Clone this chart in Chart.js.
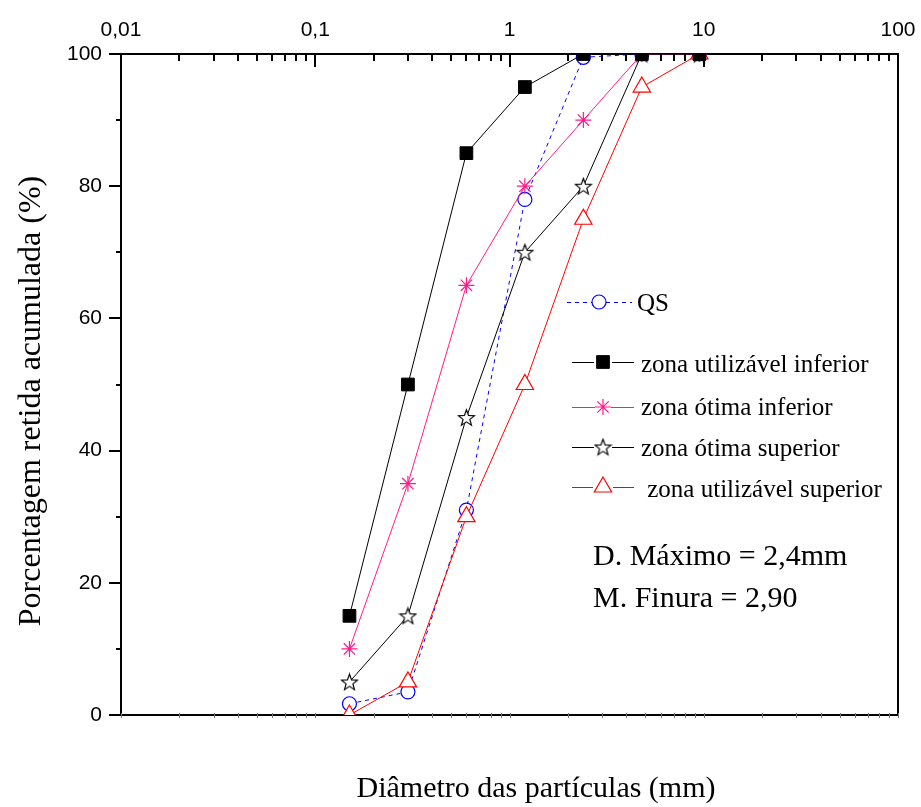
<!DOCTYPE html>
<html>
<head>
<meta charset="utf-8">
<title>Curva granulométrica</title>
<script src="https://cdn.jsdelivr.net/npm/chart.js@4.4.1/dist/chart.umd.min.js"></script>
<style>
  body { margin: 0; background: #fff; }
  canvas { display: block; }
</style>
</head>
<body>
<canvas id="gradChart" width="921" height="807"></canvas>
<script>
// sieve openings (mm) and cumulative retained (%)
const sieves = [0.15, 0.3, 0.6, 1.2, 2.4, 4.8, 9.5];
const qs = [1.7, 3.5, 31, 78, 99.5, 100, 100];
const utilInferior = [15, 50, 85, 95, 100, 100, 100];
const otimaInferior = [10, 35, 65, 80, 90, 100, 100];
const otimaSuperior = [5, 15, 45, 70, 80, 100, 100];
const utilSuperior = [0, 5, 30, 50, 75, 95, 100];

const seriesNames = ['QS', 'zona utilizável inferior', 'zona ótima inferior', 'zona ótima superior', ' zona utilizável superior'];
const xDecades = [0.01, 0.1, 1, 10, 100];
const xTickLabels = ['0,01', '0,1', '1', '10', '100'];
const yTickLabels = [0, 20, 40, 60, 80, 100];
const notes = ['D. Máximo = 2,4mm', 'M. Finura = 2,90'];
const xTitle = 'Diâmetro das partículas (mm)';
const yTitle = 'Porcentagem retida acumulada (%)';

const SERIF = "'Liberation Serif', 'Times New Roman', serif";
const PINK = '#ff1a8c';

const pts = ys => sieves.map((x, i) => ({ x: x, y: ys[i] }));

// all log ticks 1..9 x 10^n, labels only on decades
const logTicks = [];
for (let d = 0; d < xDecades.length - 1; d++) {
  for (let m = 1; m <= 9; m++) logTicks.push(m * xDecades[d]);
}
logTicks.push(xDecades[xDecades.length - 1]);

// open five-point star marker
function starMarker(size) {
  const c = document.createElement('canvas');
  c.width = size; c.height = size;
  const g = c.getContext('2d');
  const cx = size / 2, cy = size / 2 + 0.8, R = size / 2 - 1, r = R * 0.42;
  g.beginPath();
  for (let i = 0; i < 10; i++) {
    const a = -Math.PI / 2 + i * Math.PI / 5;
    const rr = i % 2 ? r : R;
    g.lineTo(cx + rr * Math.cos(a), cy + rr * Math.sin(a));
  }
  g.closePath();
  g.fillStyle = '#fff';
  g.fill();
  g.strokeStyle = '#000';
  g.lineWidth = 1.2;
  g.stroke();
  return c;
}
const starImg = starMarker(19);

// tick marks, legend, notes and axis titles
const decor = {
  id: 'decor',
  afterDraw(chart) {
    const ctx = chart.ctx;
    const area = chart.chartArea;
    const xs = chart.scales.x, ys = chart.scales.y;
    ctx.save();
    ctx.strokeStyle = '#000';
    ctx.lineWidth = 2;
    // top axis ticks pointing inward
    xs.ticks.forEach(t => {
      const px = Math.round(xs.getPixelForValue(t.value));
      const len = xDecades.includes(t.value) ? 13 : 7;
      ctx.beginPath();
      ctx.moveTo(px, area.top);
      ctx.lineTo(px, area.top + len);
      ctx.stroke();
    });
    // left axis ticks pointing outward
    ys.ticks.forEach(t => {
      const py = Math.round(ys.getPixelForValue(t.value));
      const len = yTickLabels.includes(t.value) ? 12 : 5;
      ctx.beginPath();
      ctx.moveTo(area.left - len, py);
      ctx.lineTo(area.left, py);
      ctx.stroke();
    });
    // faint ticks on bottom axis
    ctx.strokeStyle = '#777';
    ctx.lineWidth = 1;
    xs.ticks.forEach(t => {
      const px = Math.round(xs.getPixelForValue(t.value)) + 0.5;
      ctx.beginPath();
      ctx.moveTo(px, area.bottom - 2);
      ctx.lineTo(px, area.bottom + 3);
      ctx.stroke();
    });

    // legend
    const rows = [
      { y: 302, base: 311, x0: 567, x1: 632, mx: 599, tx: 637 },
      { y: 362, base: 372, x0: 572, x1: 634, mx: 603, tx: 641 },
      { y: 407, base: 415, x0: 572, x1: 634, mx: 603, tx: 641 },
      { y: 447, base: 456, x0: 572, x1: 634, mx: 603, tx: 641 },
      { y: 487, base: 497, x0: 572, x1: 634, mx: 603, tx: 641 }
    ];
    chart.data.datasets.forEach((ds, i) => {
      const r = rows[i];
      const gap = ds.pointRadius;
      ctx.save();
      ctx.strokeStyle = ds.borderColor;
      ctx.lineWidth = 1.2;
      ctx.setLineDash(ds.borderDash || []);
      ctx.beginPath();
      ctx.moveTo(r.x0, r.y + 0.5);
      ctx.lineTo(r.mx - gap, r.y + 0.5);
      ctx.moveTo(r.mx + gap, r.y + 0.5);
      ctx.lineTo(r.x1, r.y + 0.5);
      ctx.stroke();
      ctx.setLineDash([]);
      ctx.fillStyle = ds.pointBackgroundColor;
      ctx.strokeStyle = ds.pointBorderColor;
      ctx.lineWidth = ds.pointBorderWidth;
      Chart.helpers.drawPoint(ctx, {
        pointStyle: ds.pointStyle,
        radius: ds.pointRadius,
        borderWidth: ds.pointBorderWidth,
        rotation: 0
      }, r.mx, r.y);
      ctx.restore();
      ctx.fillStyle = '#000';
      ctx.font = '25px ' + SERIF;
      ctx.textAlign = 'left';
      ctx.textBaseline = 'alphabetic';
      ctx.fillText(ds.label, r.tx, r.base);
    });

    // notes
    ctx.font = '30px ' + SERIF;
    ctx.fillStyle = '#000';
    ctx.fillText(notes[0], 593, 565);
    ctx.fillText(notes[1], 593, 607);

    // axis titles
    ctx.textAlign = 'center';
    ctx.font = '30px ' + SERIF;
    ctx.fillText(xTitle, 536, 797);
    ctx.translate(40, 401);
    ctx.rotate(-Math.PI / 2);
    ctx.font = '32px ' + SERIF;
    ctx.fillText(yTitle, 0, 0);
    ctx.restore();
  }
};

const ctx = document.getElementById('gradChart').getContext('2d');
Chart.defaults.font.family = "'Liberation Sans', Arial, sans-serif";
Chart.defaults.color = '#000';

const gradChart = new Chart(ctx, {
  type: 'line',
  data: {
    datasets: [
      {
        label: seriesNames[0],
        data: pts(qs),
        borderColor: '#0000ff',
        borderDash: [4, 4],
        borderWidth: 1,
        pointStyle: 'circle',
        pointRadius: 7,
        pointBackgroundColor: '#fff',
        pointBorderColor: '#0000ff',
        pointBorderWidth: 1.2,
        order: 5
      },
      {
        label: seriesNames[1],
        data: pts(utilInferior),
        borderColor: '#000',
        borderWidth: 1,
        pointStyle: 'rect',
        pointRadius: 9,
        pointBackgroundColor: '#000',
        pointBorderColor: '#000',
        pointBorderWidth: 1,
        order: 1
      },
      {
        label: seriesNames[2],
        data: pts(otimaInferior),
        borderColor: PINK,
        borderWidth: 1,
        pointStyle: 'star',
        pointRadius: 8,
        pointBackgroundColor: PINK,
        pointBorderColor: PINK,
        pointBorderWidth: 1.2,
        order: 2
      },
      {
        label: seriesNames[3],
        data: pts(otimaSuperior),
        borderColor: '#000',
        borderWidth: 1,
        pointStyle: starImg,
        pointRadius: 9,
        pointBackgroundColor: '#fff',
        pointBorderColor: '#000',
        pointBorderWidth: 1,
        order: 3
      },
      {
        label: seriesNames[4],
        data: pts(utilSuperior),
        borderColor: '#ff0000',
        borderWidth: 1,
        pointStyle: 'triangle',
        pointRadius: 10,
        pointBackgroundColor: '#fff',
        pointBorderColor: '#ff0000',
        pointBorderWidth: 1.2,
        order: 4
      }
    ]
  },
  options: {
    responsive: false,
    animation: false,
    devicePixelRatio: 1,
    layout: { padding: 0 },
    elements: { line: { tension: 0 } },
    plugins: {
      legend: { display: false },
      tooltip: { enabled: false }
    },
    scales: {
      x: {
        type: 'logarithmic',
        position: 'top',
        min: 0.01,
        max: 100,
        afterBuildTicks: s => { s.ticks = logTicks.map(v => ({ value: v })); },
        afterFit: s => { s.height = 54; s.paddingLeft = 0; s.paddingRight = 0; },
        ticks: {
          autoSkip: false,
          maxRotation: 0,
          padding: 11,
          font: { size: 21 },
          callback: v => {
            const k = xDecades.indexOf(v);
            return k >= 0 ? xTickLabels[k] : '';
          }
        },
        grid: { drawOnChartArea: false, drawTicks: false },
        border: { color: '#000', width: 2 }
      },
      x2: {
        type: 'logarithmic',
        position: 'bottom',
        min: 0.01,
        max: 100,
        afterFit: s => { s.height = 92; s.paddingLeft = 0; s.paddingRight = 0; },
        ticks: { display: false },
        grid: { drawOnChartArea: false, drawTicks: false },
        border: { color: '#000', width: 2 }
      },
      y: {
        min: 0,
        max: 100,
        afterFit: s => { s.width = 121; s.paddingTop = 0; s.paddingBottom = 0; },
        ticks: {
          stepSize: 10,
          padding: 19,
          font: { size: 21 },
          callback: v => yTickLabels.includes(v) ? String(v) : ''
        },
        grid: { drawOnChartArea: false, drawTicks: false },
        border: { color: '#000', width: 2 }
      },
      y2: {
        position: 'right',
        min: 0,
        max: 100,
        afterFit: s => { s.width = 23; s.paddingTop = 0; s.paddingBottom = 0; },
        ticks: { display: false },
        grid: { drawOnChartArea: false, drawTicks: false },
        border: { color: '#000', width: 2 }
      }
    }
  },
  plugins: [decor]
});
</script>
</body>
</html>
